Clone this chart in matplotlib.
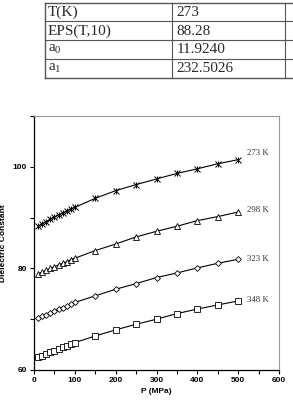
import matplotlib
matplotlib.use("Agg")
import matplotlib.pyplot as plt
from matplotlib.lines import Line2D

plt.rcParams["mathtext.fontset"] = "custom"
plt.rcParams["mathtext.rm"] = "Liberation Serif"
plt.rcParams["mathtext.it"] = "Liberation Serif"
plt.rcParams["mathtext.default"] = "rm"

# ---- data ----
table_labels = ["T(K)", "EPS(T,10)", r"a$_0$", r"a$_1$"]
table_values = ["273", "88.28", "11.9240", "232.5026"]

pressure = [10, 20, 30, 40, 50, 60, 70, 80, 90, 100,
            150, 200, 250, 300, 350, 400, 450, 500]
eps_273 = [88.3, 88.8, 89.2, 89.7, 90.1, 90.5, 90.9, 91.3, 91.7, 92.0,
           93.8, 95.3, 96.5, 97.6, 98.7, 99.6, 100.6, 101.4]
eps_298 = [78.9, 79.3, 79.6, 80.0, 80.3, 80.7, 81.0, 81.3, 81.7, 82.0,
           83.5, 84.8, 86.2, 87.3, 88.3, 89.4, 90.2, 91.1]
eps_323 = [70.2, 70.6, 70.9, 71.3, 71.6, 72.0, 72.3, 72.6, 73.0, 73.3,
           74.6, 75.9, 77.0, 78.2, 79.1, 80.1, 81.0, 81.8]
eps_348 = [62.5, 62.8, 63.2, 63.5, 63.8, 64.1, 64.5, 64.8, 65.1, 65.4,
           66.7, 67.9, 69.0, 70.0, 71.1, 72.0, 72.8, 73.6]
series_labels = ["273 K", "298 K", "323 K", "348 K"]

W, H = 293, 405
fig = plt.figure(figsize=(W / 100, H / 100), dpi=100)
fig.patch.set_facecolor("white")

# ---- table (figure pixel coords converted) ----
def fx(px): return px / W
def fy(py): return 1 - py / H

tab_left, col1, col2, tab_right = 45, 171.5, 285, 300
row_y = [2.5, 21.3, 40.0, 58.8, 77.6]
lc = "#555555"
for y in row_y:
    fig.add_artist(Line2D([fx(tab_left), fx(tab_right)], [fy(y), fy(y)],
                          color=lc, lw=1.0 if y in (row_y[0], row_y[-1]) else 0.8))
for x in (tab_left, col1, col2):
    fig.add_artist(Line2D([fx(x), fx(x)], [fy(row_y[0]), fy(row_y[-1])],
                          color=lc, lw=1.0 if x == tab_left else 0.8))
for i, (lab, val) in enumerate(zip(table_labels, table_values)):
    yc = (row_y[i] + row_y[i + 1]) / 2 + 0.5
    fig.text(fx(tab_left + 3), fy(yc), lab, family="Liberation Serif",
             fontsize=11, va="center", ha="left", color="#2a2a2a")
    fig.text(fx(col1 + 5), fy(yc), val, family="Liberation Serif",
             fontsize=11, va="center", ha="left", color="#2a2a2a")

# ---- chart ----
ax = fig.add_axes([fx(34), fy(370), fx(279) - fx(34), fy(116) - fy(370)])
ms = 4.2
ax.plot(pressure, eps_273, color="black", lw=0.8, marker="x", ms=ms,
        mew=0.7, mfc="none", mec="black")
ax.plot(pressure, eps_273, ls="none", marker="|", ms=ms, mew=0.7, mec="black")
ax.plot(pressure, eps_298, color="black", lw=0.8, marker="^", ms=ms - 0.5,
        mew=0.6, mfc="white", mec="black")
ax.plot(pressure, eps_323, color="black", lw=0.8, marker="D", ms=ms - 1.2,
        mew=0.6, mfc="white", mec="black")
ax.plot(pressure, eps_348, color="black", lw=0.8, marker="s", ms=ms,
        mew=0.6, mfc="white", mec="black")

offsets = [(6.5, 4.5), (6.5, 1.5), (6.5, 0.5), (6.5, 0.5)]
for lab, ser, off in zip(series_labels, [eps_273, eps_298, eps_323, eps_348], offsets):
    ax.annotate(lab, xy=(pressure[-1], ser[-1]), xytext=off,
                textcoords="offset points", family="Liberation Serif",
                fontsize=6.3, va="center", ha="left", color="#333333")

ax.set_xlim(0, 600)
ax.set_ylim(60, 110)
ax.set_xticks(range(0, 601, 100))
ax.set_xticks(range(0, 601, 50), minor=True)
ax.set_yticks([60, 80, 100])
ax.set_yticks(range(60, 111, 10), minor=True)
ax.tick_params(which="both", direction="out", length=3, width=0.8,
               labelsize=6, pad=2)
for t in ax.get_xticklabels() + ax.get_yticklabels():
    t.set_fontweight("bold")
    t.set_family("Liberation Sans")
ax.set_xlabel("P (MPa)", fontsize=6, fontweight="bold",
              family="Liberation Sans", labelpad=3)
ax.set_ylabel("Dielectric Constant", fontsize=6, fontweight="bold",
              family="Liberation Sans")
ax.yaxis.set_label_coords(-0.112, 0.5)
for s in ("top", "right"):
    ax.spines[s].set_color("#999999")
    ax.spines[s].set_linewidth(0.8)
for s in ("left", "bottom"):
    ax.spines[s].set_color("black")
    ax.spines[s].set_linewidth(0.9)

fig.savefig("out.png", dpi=100)
